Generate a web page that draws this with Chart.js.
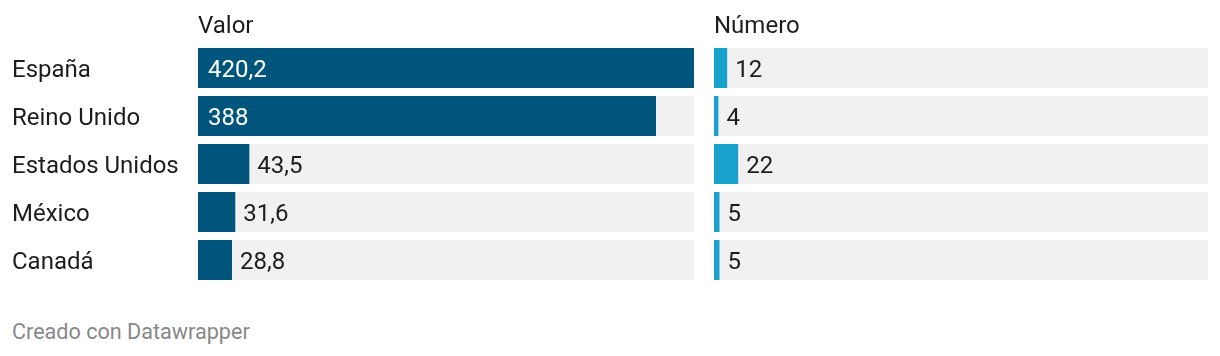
<!DOCTYPE html>
<html>
<head>
<meta charset="utf-8">
<script src="https://cdn.jsdelivr.net/npm/chart.js@4"></script>
<style>
  html, body { margin: 0; padding: 0; background: #fff; }
  body { width: 1220px; height: 356px; position: relative; overflow: hidden; font-family: Roboto, sans-serif; }
  .wrap { position: absolute; top: 0; height: 290px; }
  #footer { position: absolute; left: 12px; top: 321px; font-size: 21.6px; line-height: 22px; color: #888; font-family: Roboto, sans-serif; white-space: nowrap; }
</style>
</head>
<body>
<div class="wrap" style="left:0;width:694px;"><canvas id="c1"></canvas></div>
<div class="wrap" style="left:714px;width:494px;"><canvas id="c2"></canvas></div>
<div id="footer">Creado con Datawrapper</div>
<script>
const categories = ["España", "Reino Unido", "Estados Unidos", "México", "Canadá"];
const valor = [420.2, 388, 43.5, 31.6, 28.8];
const numero = [12, 4, 22, 5, 5];
const headers = ["Valor", "Número"];
const valorMax = 420.2;
const numeroMax = 450;

const FONT = "Roboto, sans-serif";
const TEXT = "#1d1d1d";

function fmt(v) { return String(v).replace('.', ','); }

const labelPlugin = {
  id: 'valLabels',
  afterDatasetsDraw(chart, args, opts) {
    const ctx = chart.ctx;
    const meta = chart.getDatasetMeta(1);
    const data = chart.data.datasets[1].data;
    const yScale = chart.scales.y;
    ctx.save();
    ctx.font = "24px " + FONT;
    ctx.textBaseline = 'alphabetic';
    ctx.textAlign = 'left';
    meta.data.forEach((el, i) => {
      const t = fmt(data[i]);
      const w = ctx.measureText(t).width;
      const bw = el.x - el.base;
      if (bw > w + 24) {
        ctx.fillStyle = '#fff';
        ctx.fillText(t, el.base + 10, el.y + 9);
      } else {
        ctx.fillStyle = TEXT;
        ctx.fillText(t, el.x + 8, el.y + 9);
      }
    });
    ctx.fillStyle = TEXT;
    // category labels (left panel only)
    if (opts.showLabels) {
      chart.data.labels.forEach((lab, i) => {
        ctx.fillText(lab, 12, yScale.getPixelForValue(i) + 9);
      });
    }
    // header
    ctx.fillText(opts.header, chart.chartArea.left, 33);
    ctx.restore();
  }
};

function makeChart(id, values, max, color, header, showLabels) {
  return new Chart(document.getElementById(id), {
    type: 'bar',
    data: {
      labels: categories,
      datasets: [
        { data: categories.map(() => max), backgroundColor: '#f1f1f1', grouped: false, order: 2,
          barPercentage: 40/48, categoryPercentage: 1 },
        { data: values, backgroundColor: color, grouped: false, order: 1,
          barPercentage: 40/48, categoryPercentage: 1 }
      ]
    },
    plugins: [labelPlugin],
    options: {
      indexAxis: 'y',
      responsive: true,
      maintainAspectRatio: false,
      animation: false,
      events: [],
      layout: { padding: { left: showLabels ? 198 : 0, top: 44, bottom: 6, right: 0 } },
      plugins: { legend: { display: false }, tooltip: { enabled: false }, valLabels: { header, showLabels } },
      scales: {
        x: { display: false, min: 0, max: max },
        y: { display: false }
      }
    }
  });
}

makeChart('c1', valor, valorMax, '#00557d', headers[0], true);
makeChart('c2', numero, numeroMax, '#18a1cd', headers[1], false);
</script>
</body>
</html>
